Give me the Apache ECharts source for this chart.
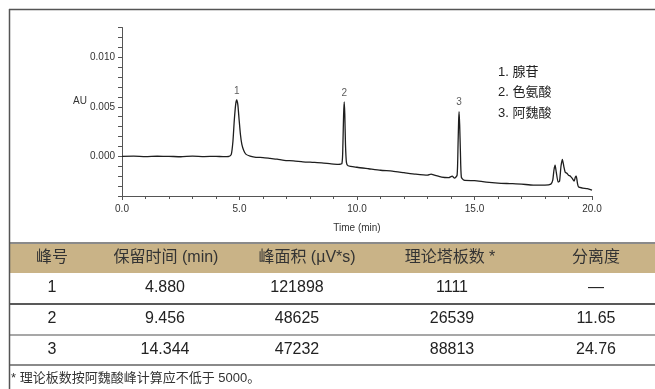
<!DOCTYPE html>
<html><head><meta charset="utf-8">
<script src="https://cdn.jsdelivr.net/npm/echarts@6/dist/echarts.min.js"></script>
<style>html,body{margin:0;padding:0;background:#fff}#c{width:655px;height:389px}</style>
</head><body><div id="c"></div>
<script>
// ---- chromatogram trace ----
const timeMin = [0.0,0.5,1.0,1.5,2.0,2.5,3.0,3.5,4.0,4.3,4.55,4.65,4.72,4.78,4.84,4.88,4.93,4.98,5.04,5.10,5.18,5.28,5.45,5.7,6.0,6.3,6.6,6.9,7.3,7.7,8.1,8.5,8.9,9.2,9.36,9.40,9.43,9.456,9.48,9.51,9.55,9.62,10.0,10.5,11.0,11.5,12.0,12.5,13.0,13.15,13.3,13.6,13.9,14.05,14.15,14.26,14.30,14.325,14.344,14.37,14.40,14.44,14.55,15.0,15.5,16.0,16.5,17.0,17.5,18.0,18.25,18.33,18.38,18.43,18.48,18.56,18.62,18.68,18.74,18.80,18.86,18.93,19.0,19.08,19.15,19.24,19.29,19.33,19.38,19.43,19.6,19.8,20.0];
const absorbance = [0.0,0.00002,-0.00003,0.00001,0.0,-0.00004,0.00002,-0.00002,0.0,-0.00003,0.0,0.0002,0.0015,0.0037,0.0053,0.0057,0.0052,0.0038,0.0022,0.0012,0.0006,0.0002,0.00003,-0.0001,-0.00012,-0.0002,-0.00028,-0.0004,-0.00045,-0.00055,-0.0006,-0.00065,-0.00075,-0.0008,-0.0007,0.0012,0.0042,0.0055,0.0043,0.0012,-0.0006,-0.00095,-0.0011,-0.00125,-0.0014,-0.0015,-0.00165,-0.0018,-0.0019,-0.0018,-0.0019,-0.0021,-0.00215,-0.0020,-0.0022,-0.0019,0.0012,0.0036,0.0045,0.0031,0.0005,-0.0021,-0.0024,-0.00245,-0.0026,-0.0027,-0.00275,-0.0028,-0.0029,-0.0029,-0.0028,-0.0024,-0.0014,-0.0009,-0.0016,-0.0026,-0.0025,-0.0010,-0.0003,-0.0010,-0.0016,-0.0017,-0.0019,-0.0020,-0.0022,-0.0025,-0.0021,-0.0020,-0.0027,-0.0031,-0.0032,-0.00325,-0.0034];
const peakNames = ['1','2','3'];
const peakTimes = [4.880, 9.456, 14.344];
const peakHeights = [0.0057, 0.0055, 0.0045];
const legendLines = ['1. 腺苷','2. 色氨酸','3. 阿魏酸'];
const xTicks = [0, 5, 10, 15, 20];
const yLabelValues = [0.000, 0.005, 0.010];
// ---- table ----
const tableHeader = ['峰号','保留时间 (min)','峰面积 (µV*s)','理论塔板数 *','分离度'];
const colPeak = ['1','2','3'];
const colRT = ['4.880','9.456','14.344'];
const colArea = ['121898','48625','47232'];
const colPlates = ['1111','26539','88813'];
const colRes = ['—','11.65','24.76'];
const footnote = '* 理论板数按阿魏酸峰计算应不低于 5000。';

const FONT = '"Liberation Sans", Arial, "Noto Sans CJK SC", sans-serif';
const CJK = '"Liberation Sans", "Noto Sans CJK SC", sans-serif';

const chart = echarts.init(document.getElementById('c'), null, {renderer:'canvas'});

const graphics = [];
// frame
graphics.push({type:'line', shape:{x1:9, y1:9.5, x2:655, y2:9.5}, style:{stroke:'#555', lineWidth:1.5}, z:10});
graphics.push({type:'line', shape:{x1:9.5, y1:9, x2:9.5, y2:389}, style:{stroke:'#555', lineWidth:1.5}, z:10});
// AU label
graphics.push({type:'text', x:73, y:101, style:{text:'AU', fill:'#333', font:'10px '+FONT, align:'left', verticalAlign:'middle'}});
// legend lines
const legY = [72, 92, 113];
legendLines.forEach((t,i)=>graphics.push({type:'text', x:498, y:legY[i], style:{text:t, fill:'#222', font:'13px '+CJK, align:'left', verticalAlign:'middle'}}));
// table header
graphics.push({type:'rect', shape:{x:9, y:243, width:646, height:30}, style:{fill:'#c9b387'}});
graphics.push({type:'line', shape:{x1:9, y1:243, x2:655, y2:243}, style:{stroke:'#8a8a8a', lineWidth:2}});
const headX = [52, 166, 307, 450, 596];
tableHeader.forEach((t,i)=>graphics.push({type:'text', x:headX[i], y:258, style:{text:t, fill:'#333', font:'16px '+CJK, align:'center', verticalAlign:'middle'}}));
const cellX = [52, 165, 297, 452, 596];
const rowY = [288, 319, 350];
const cols = [colPeak, colRT, colArea, colPlates, colRes];
cols.forEach((col,ci)=>col.forEach((v,ri)=>graphics.push({type:'text', x:cellX[ci], y:rowY[ri], style:{text:v, fill:'#222', font:'16px '+CJK, align:'center', verticalAlign:'middle'}})));
graphics.push({type:'line', shape:{x1:9, y1:304, x2:655, y2:304}, style:{stroke:'#222', lineWidth:1.5}});
graphics.push({type:'line', shape:{x1:9, y1:335, x2:655, y2:335}, style:{stroke:'#8a8a8a', lineWidth:1.5}});
graphics.push({type:'line', shape:{x1:9, y1:365, x2:655, y2:365}, style:{stroke:'#8a8a8a', lineWidth:2}});
graphics.push({type:'text', x:11, y:378, style:{text:footnote, fill:'#333', font:'13px '+CJK, align:'left', verticalAlign:'middle'}});

const option = {
  animation:false,
  backgroundColor:'#fff',
  grid:{left:122, right:63, top:27.5, bottom:193, containLabel:false},
  xAxis:{
    type:'value', min:0, max:20, interval:5,
    name:'Time (min)', nameLocation:'middle', nameGap:27,
    nameTextStyle:{color:'#333', fontSize:10, fontFamily:FONT},
    axisLine:{show:true, onZero:false, lineStyle:{color:'#555', width:1}},
    axisTick:{show:true, inside:false, length:4, lineStyle:{color:'#555'}},
    minorTick:{show:true, splitNumber:5, length:3, lineStyle:{color:'#555'}},
    axisLabel:{color:'#333', fontSize:10, fontFamily:FONT, margin:8, formatter:v=>xTicks.includes(v)?v.toFixed(1):''},
    splitLine:{show:false}
  },
  yAxis:{
    type:'value', min:-0.004, max:0.013, interval:0.001,
    axisLine:{show:true, onZero:false, lineStyle:{color:'#555', width:1}},
    axisTick:{show:true, inside:false, length:4, lineStyle:{color:'#555'}},
    axisLabel:{color:'#333', fontSize:10, fontFamily:FONT, margin:7,
      formatter:v=>{const k=Math.round(v*1000); return yLabelValues.some(y=>Math.round(y*1000)===k)?(k/1000).toFixed(3):'';}},
    splitLine:{show:false}
  },
  series:[
    {type:'line', data:timeMin.map((t,i)=>[t, absorbance[i]]), showSymbol:false, symbol:'none',
      lineStyle:{color:'#1e1e1e', width:1.3}, smooth:0.2},
    {type:'scatter', data:peakTimes.map((t,i)=>({value:[t, peakHeights[i]], name:peakNames[i]})), symbolSize:0.1,
      label:{show:true, position:'top', distance:4, formatter:p=>p.name, color:'#333', fontSize:10, fontFamily:FONT}}
  ],
  graphic:graphics
};
chart.setOption(option);
</script></body></html>
